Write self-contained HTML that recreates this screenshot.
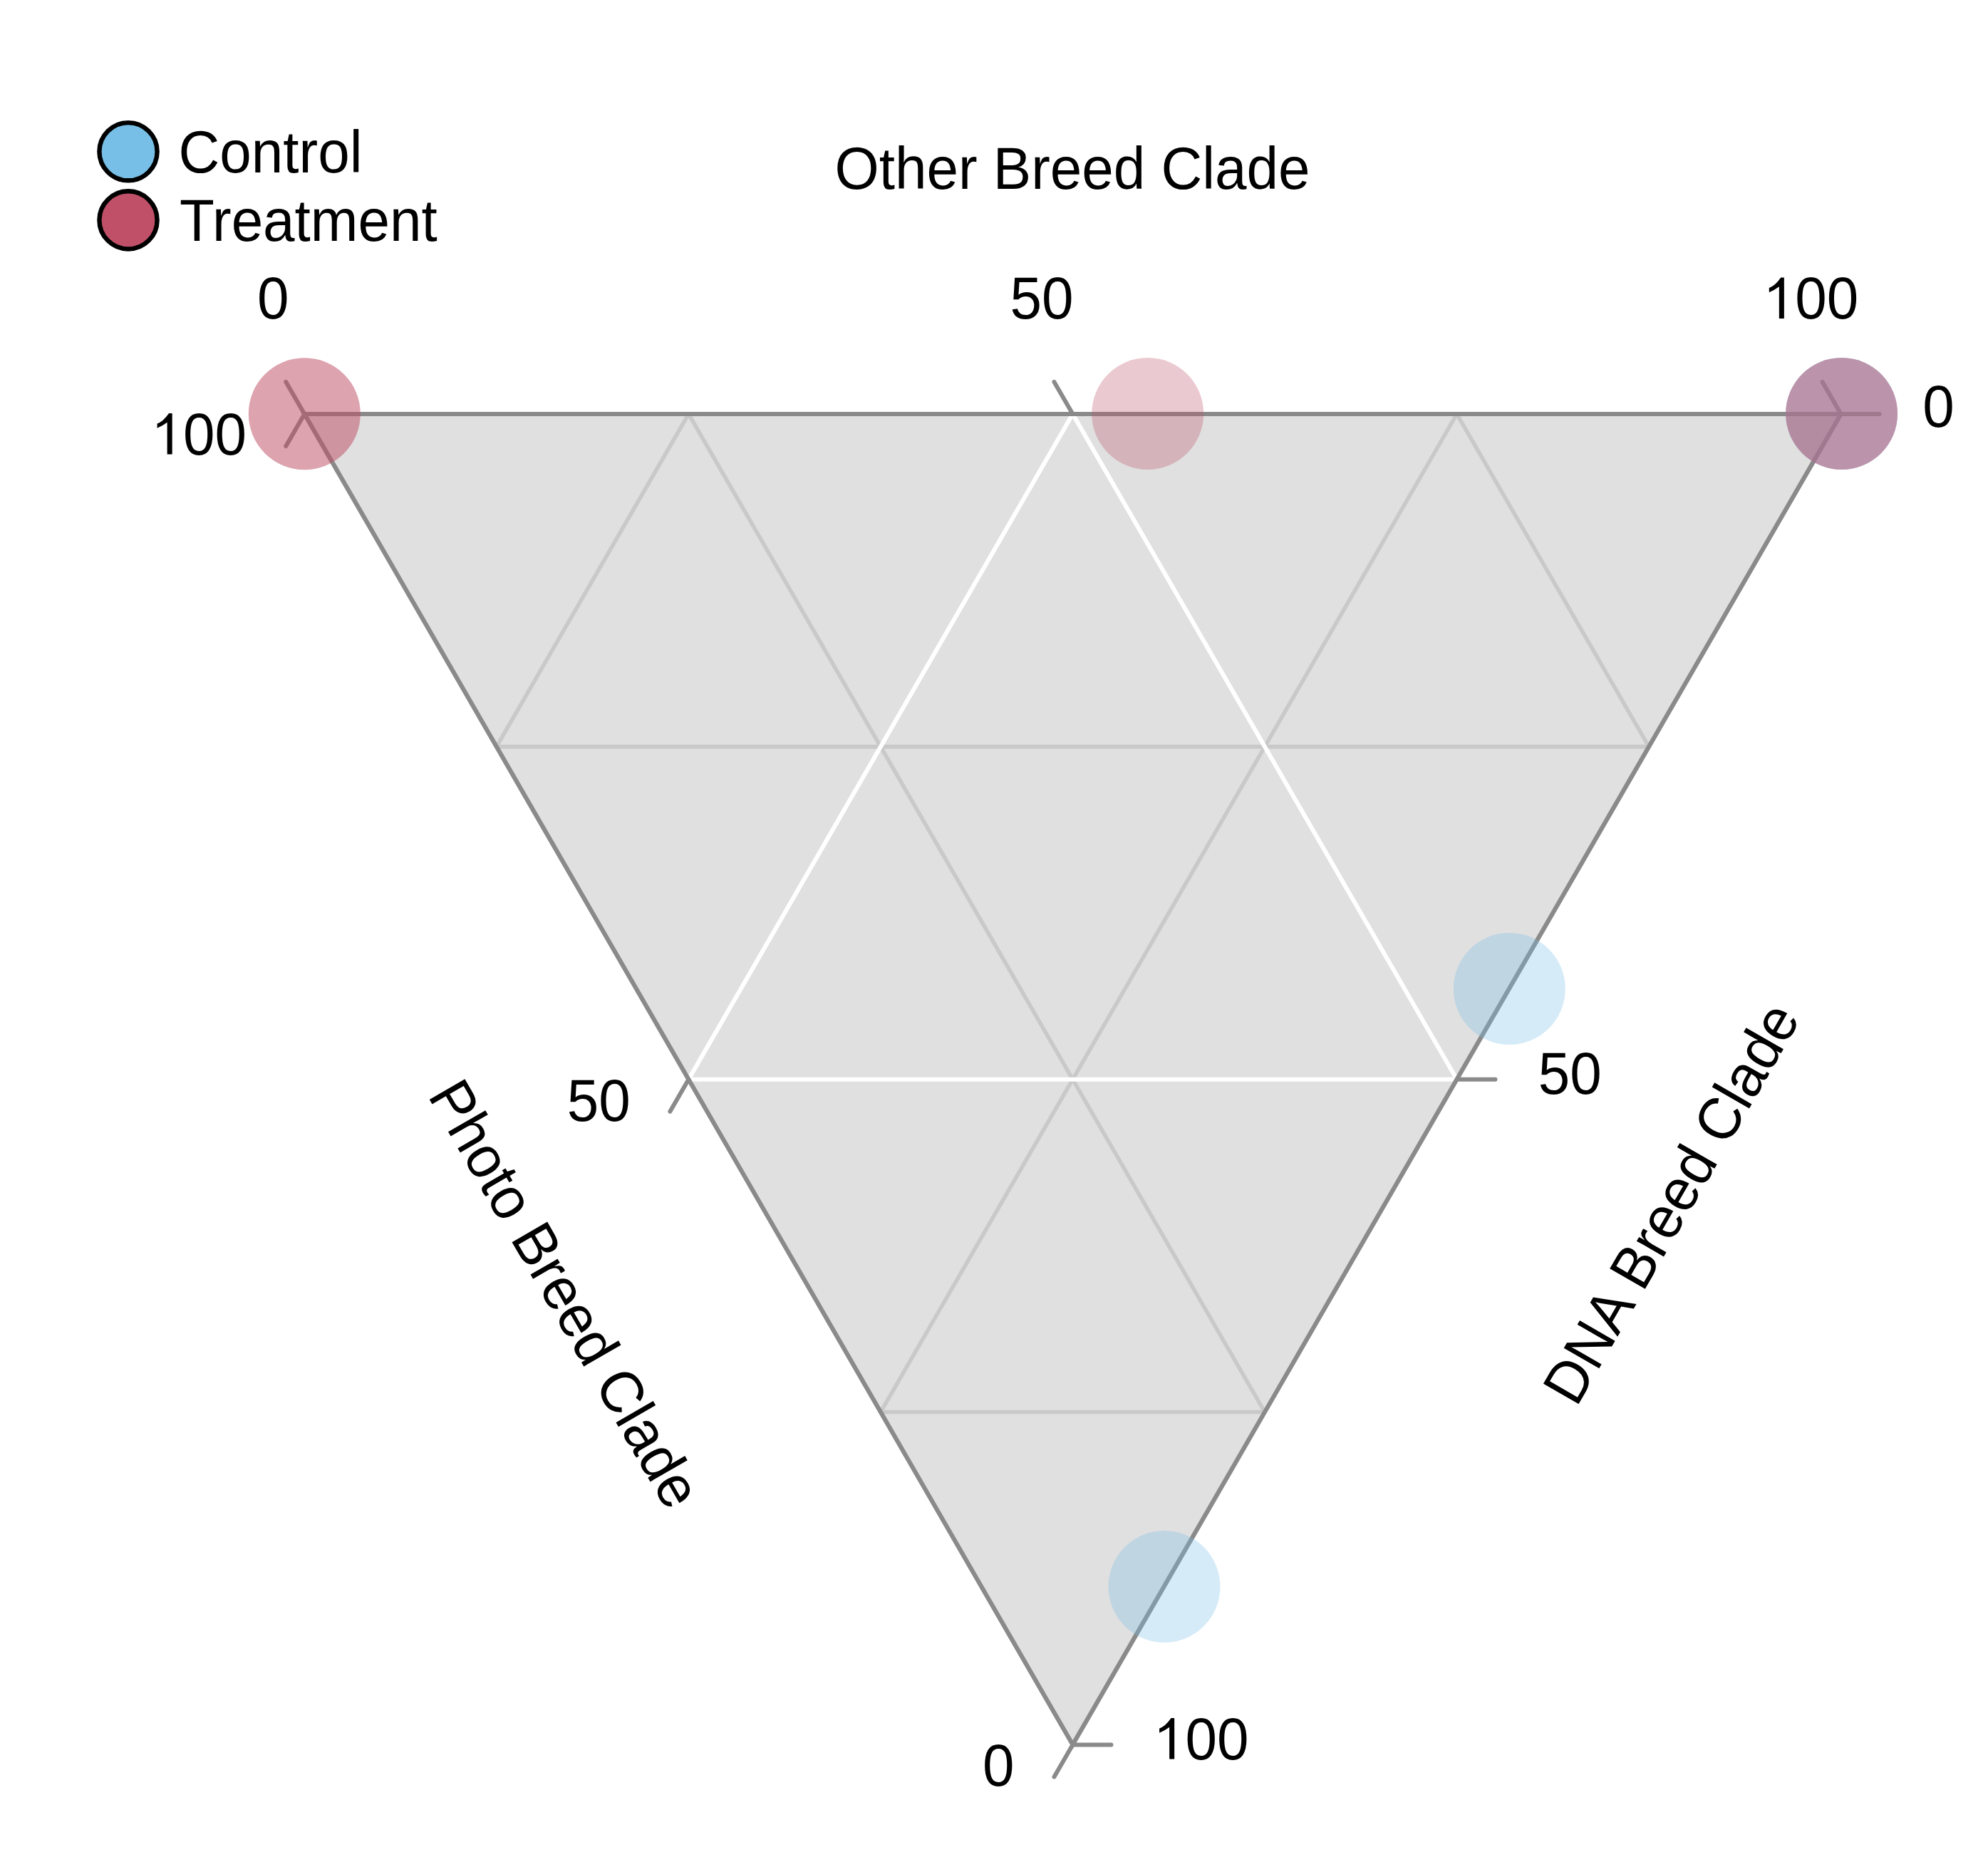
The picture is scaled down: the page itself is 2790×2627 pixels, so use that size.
<!DOCTYPE html>
<html><head><meta charset="utf-8"><style>
html,body{margin:0;padding:0;background:#fff;width:2790px;height:2627px;overflow:hidden}
svg{display:block}
text{font-family:"Liberation Sans",sans-serif}
</style></head><body>
<svg width="2790" height="2627" viewBox="0 0 2790 2627">
<rect width="2790" height="2627" fill="#ffffff"/>
<polygon points="427.30,581.00 2583.60,581.00 1505.45,2448.41" fill="#e0e0e0"/>
<line x1="696.84" y1="1047.85" x2="2314.06" y2="1047.85" stroke="#c9c9c9" stroke-width="5.6" stroke-linecap="butt"/>
<line x1="966.38" y1="581.00" x2="1774.99" y2="1981.56" stroke="#c9c9c9" stroke-width="5.6" stroke-linecap="butt"/>
<line x1="966.38" y1="581.00" x2="696.84" y2="1047.85" stroke="#c9c9c9" stroke-width="5.6" stroke-linecap="butt"/>
<line x1="1235.91" y1="1981.56" x2="1774.99" y2="1981.56" stroke="#c9c9c9" stroke-width="5.6" stroke-linecap="butt"/>
<line x1="2044.53" y1="581.00" x2="2314.06" y2="1047.85" stroke="#c9c9c9" stroke-width="5.6" stroke-linecap="butt"/>
<line x1="2044.53" y1="581.00" x2="1235.91" y2="1981.56" stroke="#c9c9c9" stroke-width="5.6" stroke-linecap="butt"/>
<line x1="966.38" y1="1514.71" x2="2044.53" y2="1514.71" stroke="#ffffff" stroke-width="6.0" stroke-linecap="butt"/>
<line x1="1505.45" y1="581.00" x2="2044.53" y2="1514.71" stroke="#ffffff" stroke-width="6.0" stroke-linecap="butt"/>
<line x1="1505.45" y1="581.00" x2="966.38" y2="1514.71" stroke="#ffffff" stroke-width="6.0" stroke-linecap="butt"/>
<polygon points="427.30,581.00 2583.60,581.00 1505.45,2448.41" fill="none" stroke="#8a8a8a" stroke-width="6.2" stroke-linejoin="miter"/>
<line x1="427.30" y1="581.00" x2="401.30" y2="535.97" stroke="#8a8a8a" stroke-width="6.0" stroke-linecap="round"/>
<line x1="1505.45" y1="581.00" x2="1479.45" y2="535.97" stroke="#8a8a8a" stroke-width="6.0" stroke-linecap="round"/>
<line x1="2583.60" y1="581.00" x2="2557.60" y2="535.97" stroke="#8a8a8a" stroke-width="6.0" stroke-linecap="round"/>
<line x1="2583.60" y1="581.00" x2="2637.60" y2="581.00" stroke="#8a8a8a" stroke-width="6.0" stroke-linecap="round"/>
<line x1="2044.53" y1="1514.71" x2="2098.53" y2="1514.71" stroke="#8a8a8a" stroke-width="6.0" stroke-linecap="round"/>
<line x1="1505.45" y1="2448.41" x2="1559.45" y2="2448.41" stroke="#8a8a8a" stroke-width="6.0" stroke-linecap="round"/>
<line x1="427.30" y1="581.00" x2="401.30" y2="626.03" stroke="#8a8a8a" stroke-width="6.0" stroke-linecap="round"/>
<line x1="966.38" y1="1514.71" x2="940.38" y2="1559.74" stroke="#8a8a8a" stroke-width="6.0" stroke-linecap="round"/>
<line x1="1505.45" y1="2448.41" x2="1479.45" y2="2493.44" stroke="#8a8a8a" stroke-width="6.0" stroke-linecap="round"/>
<circle cx="427.3" cy="580.7" r="78.5" fill="#c05068" fill-opacity="0.31"/>
<circle cx="427.3" cy="580.7" r="78.5" fill="#c05068" fill-opacity="0.31"/>
<circle cx="1610.7" cy="580.5" r="78.5" fill="#c05068" fill-opacity="0.31"/>
<circle cx="2584.6" cy="580.5" r="78.5" fill="#78bfe7" fill-opacity="0.31"/>
<circle cx="2584.6" cy="580.5" r="78.5" fill="#78bfe7" fill-opacity="0.31"/>
<circle cx="2584.6" cy="580.5" r="78.5" fill="#c05068" fill-opacity="0.31"/>
<circle cx="2584.6" cy="580.5" r="78.5" fill="#c05068" fill-opacity="0.31"/>
<circle cx="2118.3" cy="1387.6" r="78.5" fill="#78bfe7" fill-opacity="0.31"/>
<circle cx="1634.0" cy="2226.5" r="78.5" fill="#78bfe7" fill-opacity="0.31"/>
<text transform="translate(361.1,447.4) scale(1,1.04)" font-family="Liberation Sans, sans-serif" font-size="80" fill="#000">0</text>
<text transform="translate(1417.6,447.1) scale(1,1.04)" font-family="Liberation Sans, sans-serif" font-size="80" fill="#000">50</text>
<path transform="translate(2476.2,447.0)" d="M27.66 0L20.64 0L20.64-44.86Q13.62-39.65 6.6-36.84L6.6-43.05Q14.83-45.49 23.05-57.4L27.66-57.4Z" fill="#000"/>
<text transform="translate(2519.2,447.1) scale(1,1.04)" font-family="Liberation Sans, sans-serif" font-size="80" fill="#000">00</text>
<text transform="translate(2698.3,599.3) scale(1,1.04)" font-family="Liberation Sans, sans-serif" font-size="80" fill="#000">0</text>
<text transform="translate(2158.8,1535.4) scale(1,1.04)" font-family="Liberation Sans, sans-serif" font-size="80" fill="#000">50</text>
<path transform="translate(1620.5,2468.5)" d="M27.66 0L20.64 0L20.64-44.86Q13.62-39.65 6.6-36.84L6.6-43.05Q14.83-45.49 23.05-57.4L27.66-57.4Z" fill="#000"/>
<text transform="translate(1663.5,2468.6) scale(1,1.04)" font-family="Liberation Sans, sans-serif" font-size="80" fill="#000">00</text>
<path transform="translate(214,637.5)" d="M27.66 0L20.64 0L20.64-44.86Q13.62-39.65 6.6-36.84L6.6-43.05Q14.83-45.49 23.05-57.4L27.66-57.4Z" fill="#000"/>
<text transform="translate(257.0,637.6) scale(1,1.04)" font-family="Liberation Sans, sans-serif" font-size="80" fill="#000">00</text>
<text transform="translate(795.7,1572.7) scale(1,1.04)" font-family="Liberation Sans, sans-serif" font-size="80" fill="#000">50</text>
<text transform="translate(1379,2505.8) scale(1,1.04)" font-family="Liberation Sans, sans-serif" font-size="80" fill="#000">0</text>
<text transform="translate(1505,265) scale(1,1.04)" text-anchor="middle" font-family="Liberation Sans, sans-serif" font-size="80" fill="#000">Other Breed Clade</text>
<text transform="translate(768.5,1829.9) rotate(60) scale(1,1.04)" text-anchor="middle" font-family="Liberation Sans, sans-serif" font-size="80" fill="#000">Photo Breed Clade</text>
<text transform="translate(2370.0,1702.7) rotate(-60) scale(1,1.04)" text-anchor="middle" font-family="Liberation Sans, sans-serif" font-size="80" fill="#000">DNA Breed Clade</text>
<circle cx="180" cy="212.7" r="40.6" fill="#78bfe7" stroke="#000" stroke-width="6.4"/>
<circle cx="180" cy="308.9" r="40.6" fill="#c05068" stroke="#000" stroke-width="6.4"/>
<text transform="translate(250.6,242.1) scale(1,1.04)" font-family="Liberation Sans, sans-serif" font-size="80" fill="#000">Control</text>
<text transform="translate(252.1,337.8) scale(1,1.04)" font-family="Liberation Sans, sans-serif" font-size="80" fill="#000">Treatment</text>
</svg>
</body></html>
